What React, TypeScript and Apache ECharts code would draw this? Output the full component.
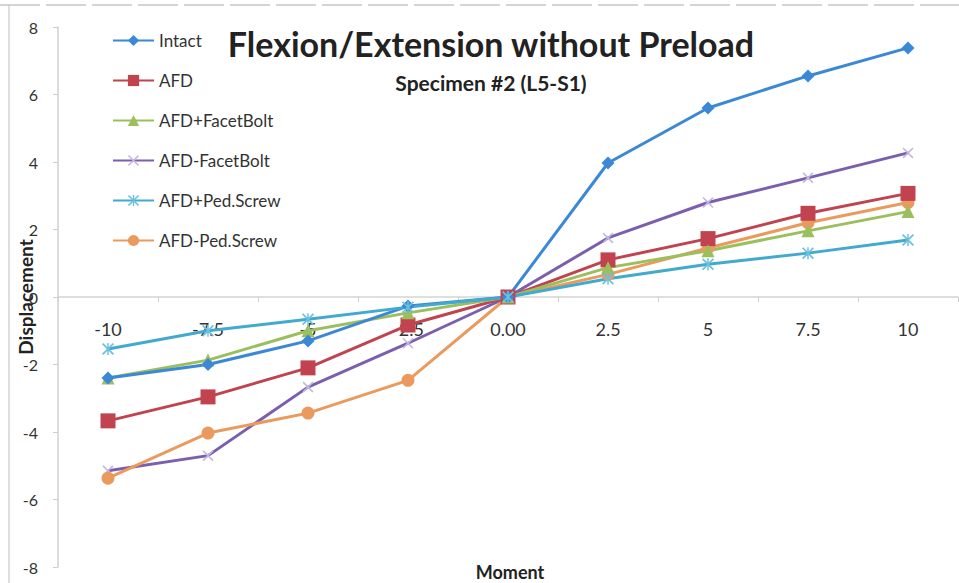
import React, { useEffect, useRef } from "react";
import * as echarts from "echarts";

const categories = ["-10", "-7.5", "-5", "-2.5", "0.00", "2.5", "5", "7.5", "10"];
const intact = [-2.4, -2.0, -1.3, -0.27, 0, 3.97, 5.6, 6.55, 7.38];
const afd = [-3.67, -2.96, -2.1, -0.83, 0, 1.1, 1.73, 2.48, 3.07];
const afdPlusFacetBolt = [-2.4, -1.87, -1.0, -0.47, 0, 0.87, 1.37, 1.96, 2.53];
const afdMinusFacetBolt = [-5.15, -4.7, -2.67, -1.37, 0, 1.75, 2.8, 3.53, 4.27];
const afdPlusPedScrew = [-1.54, -1.0, -0.66, -0.3, 0, 0.54, 0.97, 1.3, 1.69];
const afdMinusPedScrew = [-5.37, -4.03, -3.44, -2.47, 0, 0.67, 1.45, 2.2, 2.8];

const FONT = "Lato, 'Open Sans', sans-serif";

const X_PATH =
  "path://M0,1 L1,0 L5,4 L9,0 L10,1 L6,5 L10,9 L9,10 L5,6 L1,10 L0,9 L4,5 Z";
const STAR_PATH =
  "path://M0,1 L1,0 L5,4 L9,0 L10,1 L6,5 L10,9 L9,10 L5,6 L1,10 L0,9 L4,5 Z M4.4,0 L5.6,0 L5.6,10 L4.4,10 Z";

const W = 959;
const H = 583;
const GRID_TOP = 27;
const GRID_BOTTOM = 16;
const Y_MIN = -8;
const Y_MAX = 8;

export default function App() {
  const ref = useRef<HTMLDivElement>(null);
  useEffect(() => {
    if (!ref.current) return;
    const chart = echarts.init(ref.current, null, { renderer: "svg" });
    const mk = (
      name: string,
      data: number[],
      color: string,
      symbol: string,
      size: number,
      symColor?: string
    ) => ({
      name,
      type: "line",
      data,
      symbol,
      symbolSize: size,
      lineStyle: { color, width: 3 },
      itemStyle: { color: symColor || color },
      emphasis: { disabled: true },
    });
    // move the category axis up to the y=0 level of the value axis
    const gridH = H - GRID_TOP - GRID_BOTTOM;
    const zeroOffset = -gridH * ((0 - Y_MIN) / (Y_MAX - Y_MIN));
    chart.setOption({
      animation: false,
      backgroundColor: "#ffffff",
      textStyle: { fontFamily: FONT },
      title: [
        {
          text: "Flexion/Extension without Preload",
          left: 486,
          textAlign: "center",
          top: 21,
          textStyle: { fontSize: 34, fontWeight: "bold", color: "#222", fontFamily: FONT },
        },
        {
          text: "Specimen #2 (L5-S1)",
          left: 486,
          textAlign: "center",
          top: 67,
          textStyle: { fontSize: 21, fontWeight: "bold", color: "#222", fontFamily: FONT },
        },
      ],
      legend: {
        orient: "vertical",
        left: 107,
        top: 27,
        itemWidth: 41,
        itemHeight: 14,
        itemGap: 23,
        textStyle: { fontSize: 17, color: "#333", fontFamily: FONT },
        data: [
          "Intact",
          "AFD",
          "AFD+FacetBolt",
          "AFD-FacetBolt",
          "AFD+Ped.Screw",
          "AFD-Ped.Screw",
        ],
      },
      grid: {
        left: 58,
        right: 1,
        top: GRID_TOP,
        bottom: GRID_BOTTOM,
        containLabel: false,
        outerBoundsMode: "none",
      },
      xAxis: {
        type: "category",
        data: categories,
        boundaryGap: true,
        position: "bottom",
        offset: zeroOffset,
        axisLine: { onZero: false, lineStyle: { color: "#d4d4d4", width: 1.5 } },
        axisTick: { show: true, length: 5, lineStyle: { color: "#cfcfcf" } },
        axisLabel: { fontSize: 18, color: "#333", margin: 23, fontFamily: FONT },
        splitLine: { show: false },
      },
      yAxis: {
        type: "value",
        min: Y_MIN,
        max: Y_MAX,
        interval: 2,
        name: "Displacement",
        nameLocation: "middle",
        nameGap: 23,
        nameMoveOverlap: false,
        nameTextStyle: { fontSize: 19, fontWeight: "bold", color: "#222", fontFamily: FONT },
        axisLine: { show: true, lineStyle: { color: "#d0d0d0", width: 1.5 } },
        axisTick: { show: true, length: 5, lineStyle: { color: "#cfcfcf" } },
        axisLabel: { fontSize: 16, color: "#333", margin: 20, fontFamily: FONT },
        splitLine: { show: false },
      },
      graphic: [
        {
          type: "line",
          shape: { x1: 0, y1: 5, x2: 959, y2: 5 },
          style: { stroke: "#c8c8c8", lineWidth: 1.5, lineDash: [40, 6] },
        },
        {
          type: "line",
          shape: { x1: 9, y1: 5, x2: 9, y2: 583 },
          style: { stroke: "#bdbdbd", lineWidth: 1 },
        },
        {
          type: "text",
          x: 510,
          y: 572,
          style: {
            text: "Moment",
            fontSize: 18,
            fontWeight: "bold",
            fill: "#222",
            fontFamily: FONT,
            align: "center",
            verticalAlign: "middle",
          },
        },
      ],
      series: [
        mk("AFD-FacetBolt", afdMinusFacetBolt, "#7b5fae", X_PATH, 11, "#c2b6e0"),
        mk("AFD-Ped.Screw", afdMinusPedScrew, "#eb9a5e", "circle", 13),
        mk("AFD", afd, "#c0434f", "rect", 15),
        mk("AFD+FacetBolt", afdPlusFacetBolt, "#9bbf5c", "triangle", 13),
        mk("Intact", intact, "#3b88d6", "diamond", 13),
        mk("AFD+Ped.Screw", afdPlusPedScrew, "#42a9cf", STAR_PATH, 12, "#6cc0df"),
      ],
    });
    return () => chart.dispose();
  }, []);
  return (
    <div
      ref={ref}
      style={{ position: "fixed", left: 0, top: 0, width: W, height: H }}
    />
  );
}
